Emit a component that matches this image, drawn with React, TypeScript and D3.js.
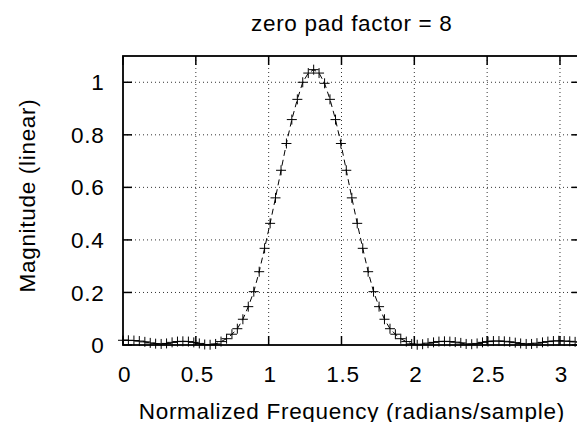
import React from "react";
import * as d3 from "d3";

const freqs = [
  0.000, 0.037, 0.075, 0.112, 0.150, 0.187, 0.224, 0.262, 0.299, 0.337,
  0.374, 0.411, 0.449, 0.486, 0.524, 0.561, 0.598, 0.636, 0.673, 0.711,
  0.748, 0.785, 0.823, 0.860, 0.898, 0.935, 0.972, 1.010, 1.047, 1.085,
  1.122, 1.159, 1.197, 1.234, 1.272, 1.309, 1.346, 1.384, 1.421, 1.459,
  1.496, 1.533, 1.571, 1.608, 1.646, 1.683, 1.720, 1.758, 1.795, 1.833,
  1.870, 1.907, 1.945, 1.982, 2.020, 2.057, 2.094, 2.132, 2.169, 2.207,
  2.244, 2.281, 2.319, 2.356, 2.394, 2.431, 2.468, 2.506, 2.543, 2.581,
  2.618, 2.655, 2.693, 2.730, 2.768, 2.805, 2.842, 2.880, 2.917, 2.955,
  2.992, 3.029, 3.067, 3.104, 3.142,
];

const magnitudes = [
  0.018, 0.018, 0.017, 0.015, 0.012, 0.008, 0.005, 0.004, 0.006, 0.010,
  0.013, 0.014, 0.013, 0.010, 0.006, 0.002, 0.001, 0.004, 0.013, 0.024,
  0.041, 0.062, 0.098, 0.146, 0.203, 0.279, 0.368, 0.463, 0.560, 0.665,
  0.767, 0.858, 0.935, 1.000, 1.035, 1.048, 1.035, 0.996, 0.935, 0.858,
  0.767, 0.665, 0.560, 0.463, 0.368, 0.279, 0.203, 0.146, 0.098, 0.062,
  0.041, 0.024, 0.013, 0.004, 0.001, 0.003, 0.007, 0.010, 0.013, 0.014,
  0.013, 0.011, 0.008, 0.004, 0.003, 0.006, 0.010, 0.013, 0.015, 0.015,
  0.014, 0.012, 0.009, 0.006, 0.004, 0.004, 0.007, 0.010, 0.013, 0.015,
  0.016, 0.015, 0.014, 0.012, 0.011,
];

const xTicks = [0, 0.5, 1, 1.5, 2, 2.5, 3];
const xTickLabels = ["0", "0.5", "1", "1.5", "2", "2.5", "3"];
const yTicks = [0, 0.2, 0.4, 0.6, 0.8, 1];
const yTickLabels = ["0", "0.2", "0.4", "0.6", "0.8", "1"];

const title = "zero pad factor = 8";
const xLabel = "Normalized Frequency (radians/sample)";
const yLabel = "Magnitude (linear)";

export default function App() {
  const W = 577;
  const H = 422;
  const left = 123;
  const right = 580.6;
  const top = 56;
  const bottom = 345;

  const x = d3.scaleLinear().domain([0, Math.PI]).range([left, right]);
  const y = d3.scaleLinear().domain([0, 1.1]).range([bottom, top]);

  const pts = freqs.map((f, i) => [x(f), y(magnitudes[i])] as [number, number]);
  const line = d3.line()(pts) || "";

  const font = "'Liberation Sans', Arial, Helvetica, sans-serif";
  const fs = 22.5;
  const ls = 0.7;
  const tickLen = 9;
  const m = 5;

  return (
    <svg
      width={W}
      height={H}
      style={{ position: "absolute", left: 0, top: 0, background: "#fff" }}
      fontFamily={font}
    >
      <rect x={0} y={0} width={W} height={H} fill="#fff" />
      {xTicks.filter((t) => t !== 0).map((t) => (
        <line key={"gx" + t} x1={x(t)} x2={x(t)} y1={top} y2={bottom}
          stroke="#333" strokeWidth={1} strokeDasharray="1,3" />
      ))}
      {yTicks.filter((t) => t !== 0).map((t) => (
        <line key={"gy" + t} x1={left} x2={right} y1={y(t)} y2={y(t)}
          stroke="#333" strokeWidth={1} strokeDasharray="1,3" />
      ))}
      {xTicks.map((t) => (
        <g key={"tx" + t}>
          <line x1={x(t)} x2={x(t)} y1={bottom} y2={bottom - tickLen} stroke="#000" strokeWidth={1.5} />
          <line x1={x(t)} x2={x(t)} y1={top} y2={top + tickLen} stroke="#000" strokeWidth={1.5} />
        </g>
      ))}
      {yTicks.map((t) => (
        <g key={"ty" + t}>
          <line x1={left} x2={left + tickLen} y1={y(t)} y2={y(t)} stroke="#000" strokeWidth={1.5} />
          <line x1={right} x2={right - tickLen} y1={y(t)} y2={y(t)} stroke="#000" strokeWidth={1.5} />
        </g>
      ))}
      <path d={line} fill="none" stroke="#000" strokeWidth={1} strokeDasharray="6,4" />
      {pts.map(([px, py], i) => (
        <path key={"m" + i}
          d={`M${px - m},${py}H${px + m}M${px},${py - m}V${py + m}`}
          stroke="#000" strokeWidth={1} fill="none" />
      ))}
      <rect x={left} y={top} width={right - left} height={bottom - top}
        fill="none" stroke="#000" strokeWidth={1.8} />
      {xTicks.map((t, i) => (
        <text key={"lx" + t} x={x(t) + 1.5} y={381.5} textAnchor="middle"
          fontSize={fs} letterSpacing={ls} fill="#000">{xTickLabels[i]}</text>
      ))}
      {yTicks.map((t, i) => (
        <text key={"ly" + t} x={104.5} y={y(t)} dy="0.36em" textAnchor="end"
          fontSize={fs} letterSpacing={ls} fill="#000">{yTickLabels[i]}</text>
      ))}
      <text x={(left + right) / 2} y={30.5} textAnchor="middle" fontSize={fs}
        letterSpacing={ls} fill="#000">{title}</text>
      <text x={(left + right) / 2} y={418.5} textAnchor="middle" fontSize={fs}
        letterSpacing={ls} fill="#000">{xLabel}</text>
      <text transform={`translate(35,${(top + bottom) / 2 - 5}) rotate(-90)`} textAnchor="middle"
        fontSize={fs} letterSpacing={ls} fill="#000">{yLabel}</text>
    </svg>
  );
}
